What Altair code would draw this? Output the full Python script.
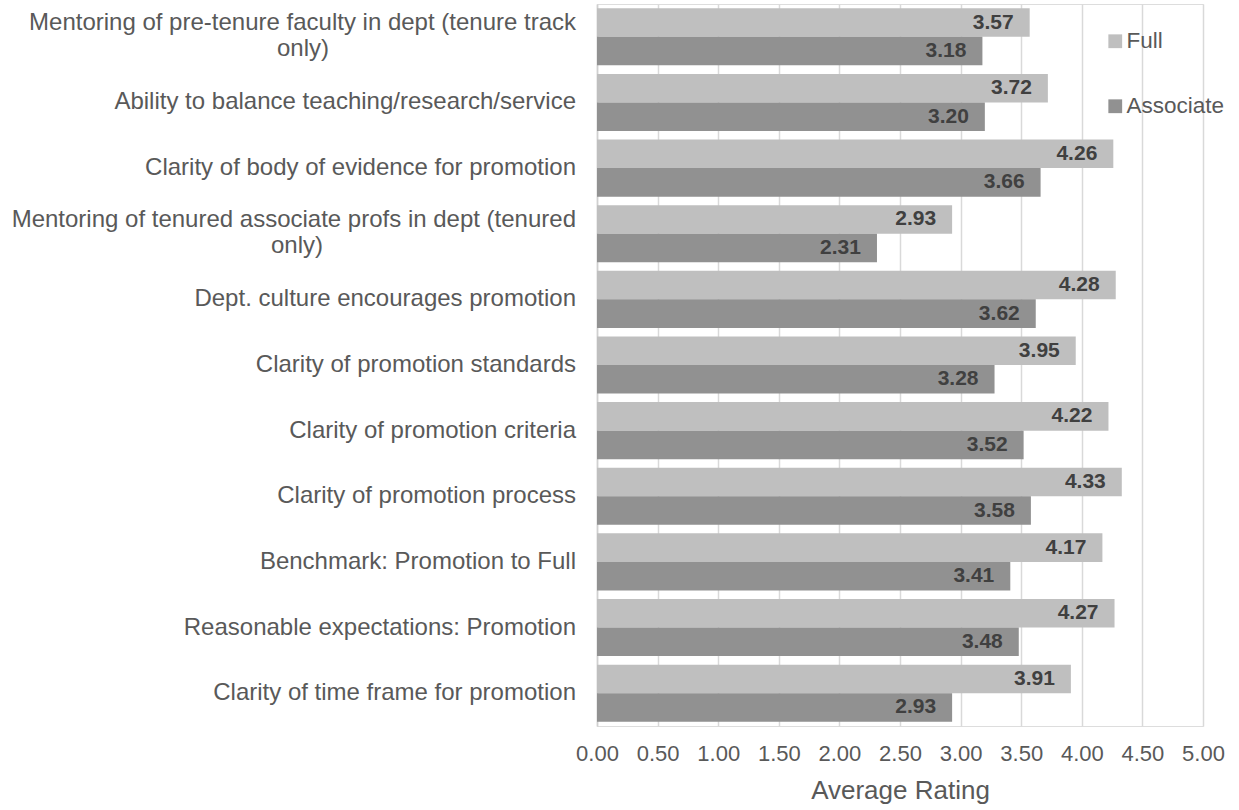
import altair as alt
import pandas as pd

# Survey items (top to bottom) and average ratings for each rank
categories = [
    "Mentoring of pre-tenure faculty in dept (tenure track only)",
    "Ability to balance teaching/research/service",
    "Clarity of body of evidence for promotion",
    "Mentoring of tenured associate profs in dept (tenured only)",
    "Dept. culture encourages promotion",
    "Clarity of promotion standards",
    "Clarity of promotion criteria",
    "Clarity of promotion process",
    "Benchmark: Promotion to Full",
    "Reasonable expectations: Promotion",
    "Clarity of time frame for promotion",
]
full = [3.57, 3.72, 4.26, 2.93, 4.28, 3.95, 4.22, 4.33, 4.17, 4.27, 3.91]
associate = [3.18, 3.20, 3.66, 2.31, 3.62, 3.28, 3.52, 3.58, 3.41, 3.48, 2.93]
series = ["Full", "Associate"]
x_ticks = [0, 0.5, 1, 1.5, 2, 2.5, 3, 3.5, 4, 4.5, 5]

# Where the long item names wrap onto a second line
wraps = {
    categories[0]: ("Mentoring of pre-tenure faculty in dept (tenure track", "only)"),
    categories[3]: ("Mentoring of tenured associate profs in dept (tenured", "only)"),
}

rows = []
for c, f, a in zip(categories, full, associate):
    rows.append({"item": c, "rank": "Full", "rating": f})
    rows.append({"item": c, "rank": "Associate", "rating": a})
df = pd.DataFrame(rows)

FONT = "Liberation Sans"
TXT = "#595959"
NAME_FS = 24

y_enc = alt.Y("item:N", sort=categories, title=None,
              scale=alt.Scale(paddingInner=0.13, paddingOuter=0.065),
              axis=alt.Axis(labels=False, ticks=False, domain=True,
                            domainColor="#d0d0d0", domainWidth=1.5, grid=False))
x_enc = alt.X("rating:Q", title="Average Rating",
              scale=alt.Scale(domain=[0, 5], nice=False),
              axis=alt.Axis(values=x_ticks, format=".2f", domain=False, ticks=False,
                            grid=True, gridColor="#d9d9d9", gridWidth=1.5,
                            labelOverlap=False, labelFlush=False, labelBound=False,
                            labelFontSize=22, labelColor=TXT,
                            labelFont=FONT, labelPadding=17, titleFontSize=26,
                            titleColor=TXT, titleFont=FONT, titleFontWeight="normal",
                            titlePadding=13))
off_enc = alt.YOffset("rank:N", sort=series,
                      scale=alt.Scale(paddingInner=0, paddingOuter=0))

base = alt.Chart(df)

bars = base.mark_bar().encode(
    x=x_enc, y=y_enc, yOffset=off_enc,
    color=alt.Color("rank:N", sort=series,
                    scale=alt.Scale(domain=series, range=["#bfbfbf", "#919191"]),
                    legend=alt.Legend(title=None, orient="none", legendX=507, legendY=26,
                                      symbolType="square", symbolSize=190,
                                      symbolStrokeWidth=0,
                                      labelFontSize=22.5, labelColor=TXT, labelFont=FONT,
                                      rowPadding=42, labelOffset=0)),
)

values = base.mark_text(align="right", baseline="middle", dx=-16, fontSize=21,
                        fontWeight="bold", color="#404040", font=FONT).encode(
    x="rating:Q", y=alt.Y("item:N", sort=categories), yOffset=off_enc,
    text=alt.Text("rating:Q", format=".2f"),
)

# Item names drawn as text so wrapped lines can be placed like the source layout
single = pd.DataFrame({"item": [c for c in categories if c not in wraps]})
first = pd.DataFrame({"item": list(wraps), "line": [v[0] for v in wraps.values()]})

name_single = alt.Chart(single).mark_text(
    align="right", baseline="middle", fontSize=NAME_FS, color=TXT, font=FONT
).encode(x=alt.value(-21), y=alt.Y("item:N", sort=categories), text="item:N")

name_first = alt.Chart(first).mark_text(
    align="right", baseline="middle", dy=-14, fontSize=NAME_FS, color=TXT, font=FONT
).encode(x=alt.value(-21), y=alt.Y("item:N", sort=categories), text="line:N")

second_x = {categories[0]: -294, categories[3]: -300}
name_second = []
for item, (l1, l2) in wraps.items():
    name_second.append(
        alt.Chart(pd.DataFrame({"item": [item], "line": [l2]})).mark_text(
            align="center", baseline="middle", dy=12, fontSize=NAME_FS, color=TXT, font=FONT
        ).encode(x=alt.value(second_x[item]), y=alt.Y("item:N", sort=categories),
                 text="line:N")
    )

chart = alt.layer(bars, values, name_single, name_first, *name_second).properties(
    width=606, height=722,
    autosize=alt.AutoSizeParams(type="none"),
    padding={"left": 597, "top": 4, "right": 36, "bottom": 84},
).configure_view(stroke=None).configure(background="white")

chart.save("out.html", embed_options={"renderer": "svg", "actions": False})
